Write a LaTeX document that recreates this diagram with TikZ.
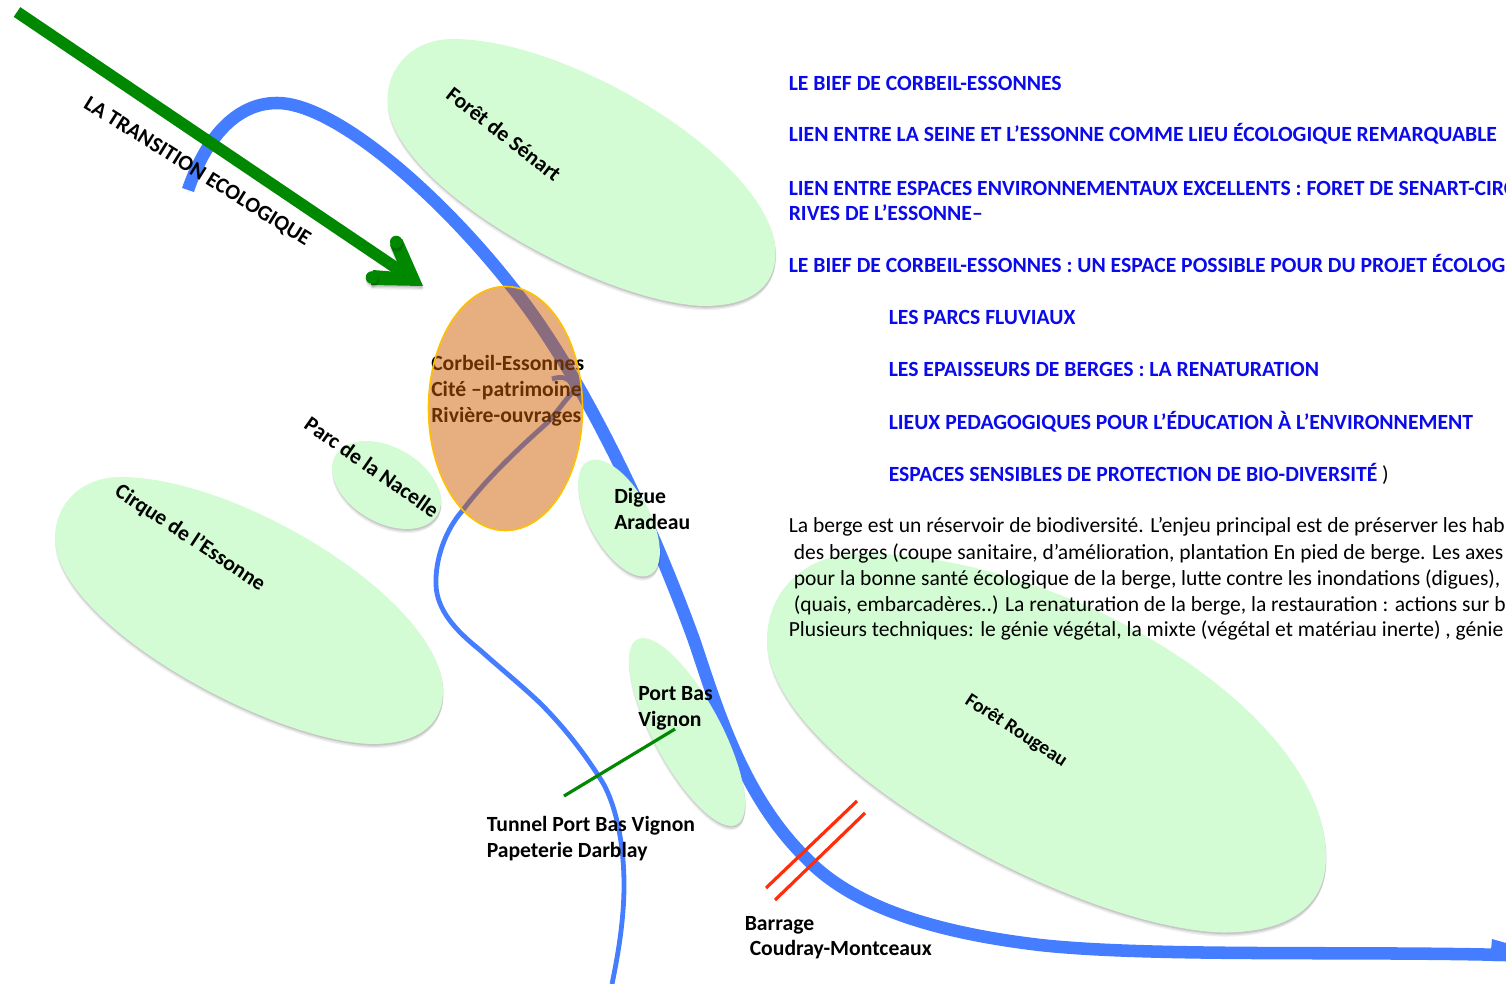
\documentclass[tikz,border=0pt]{standalone}
\usepackage{fontspec}
\setmainfont{Carlito}
\usetikzlibrary{shapes.geometric}
\definecolor{leaf}{RGB}{212,252,212}
\definecolor{riverblue}{RGB}{68,125,255}
\definecolor{arrowgreen}{RGB}{0,136,0}
\definecolor{linkblue}{RGB}{10,10,235}
\definecolor{damred}{RGB}{255,45,10}
\definecolor{burnt}{RGB}{207,95,0}
\definecolor{gold}{RGB}{255,192,0}
\tikzset{
 softshadow/.style={
  preaction={fill=black,opacity=.06,transform canvas={shift={(0pt,-3.2pt)}}},
  preaction={fill=black,opacity=.08,transform canvas={shift={(0.4pt,-2.2pt)}}},
  preaction={fill=black,opacity=.10,transform canvas={shift={(0.4pt,-1.2pt)}}}},
 lineshadow/.style={
  preaction={draw=black,opacity=.07,transform canvas={shift={(0pt,-2.6pt)}}},
  preaction={draw=black,opacity=.09,transform canvas={shift={(0.3pt,-1.4pt)}}}},
 zone/.style={ellipse,fill=leaf,inner sep=0pt,softshadow},
 leafzone/.style={fill=leaf,softshadow},
 lab/.style={anchor=base west,inner sep=0pt,font=\fontsize{16.25}{18.9}\selectfont\bfseries,align=left},
 rotlab/.style={anchor=center,inner sep=0pt,font=\fontsize{16.25}{18.9}\selectfont\bfseries},
 smalllab/.style={rotlab,font=\fontsize{14.6}{17}\selectfont\bfseries},
 head/.style={lab,text=linkblue},
 body/.style={anchor=base west,inner sep=0pt,font=\fontsize{16.15}{18.9}\selectfont},
 mainriver/.style={draw=riverblue,line width=9.4pt,lineshadow},
 smallriver/.style={draw=riverblue,line width=3.6pt,lineshadow},
 greenline/.style={draw=arrowgreen,line width=2.4pt},
 damline/.style={draw=damred,line width=2.4pt},
 bigarrow/.style={draw=arrowgreen,line width=8.8pt,lineshadow},
 arrowhead/.style={fill=arrowgreen,softshadow},
}
\newcommand{\leafshape}[6]{\path[leafzone,shift={(#1,#2)},xscale=#3,yscale=#4]
 (0,0) .. controls (0,-35) and (27,-61) .. (65,-61)
 .. controls (#5,-61) and (386,#6) .. (386,153)
 .. controls (386,190) and (357,206) .. (315,206)
 .. controls (212,203) and (0,85) .. (0,0) -- cycle;}
\begin{document}
\begin{tikzpicture}[x=0.75pt,y=-0.75pt]
\useasboundingbox (0,0) rectangle (1506,984);
\clip (0,0) rectangle (1506,984);
% rivers
\path[mainriver] (188,190) .. controls (205,140) and (235,103) .. (277,103)
 .. controls (335,103) and (440,195) .. (512,287)
 .. controls (575,365) and (645,505) .. (694,640)
 .. controls (716,705) and (742,795) .. (805,857)
 .. controls (850,905) and (930,932) .. (1040,945)
 .. controls (1150,957) and (1350,951) .. (1506,955);
\fill[riverblue] (1491,950) -- (1492,939) -- (1506,943) -- (1506,961) -- (1491,961) -- cycle;
\path[smallriver] (552,379) .. controls (560,376) and (573,376) .. (573,392)
 .. controls (565,400) and (555,415) .. (547,423)
 .. controls (520,447) and (485,480) .. (463,510)
 .. controls (445,530) and (435,560) .. (436,585)
 .. controls (437,610) and (455,630) .. (480,650)
 .. controls (500,668) and (520,684) .. (540,703)
 .. controls (570,733) and (590,762) .. (603,783)
 .. controls (618,810) and (624,850) .. (624,885)
 .. controls (624,920) and (618,955) .. (612,984);
% zones
\leafshape{387.5}{100}{1.005}{1}{185}{65}
\leafshape{55}{538}{1.005}{1}{185}{65}
\leafshape{767}{640}{1.448}{1.42}{205}{50}
\node[zone,rotate=-30,minimum width=88.5pt,minimum height=56.5pt] (nacelle) at (386.5,485) {};
\node[zone,rotate=-61,minimum width=97pt,minimum height=45pt] (digue) at (619,518) {};
\node[zone,rotate=-61.7,minimum width=157.7pt,minimum height=50.7pt] (portbas) at (687,732) {};
% zone labels
\node[rotlab,rotate=-38] (tsenart) at (504,134) {Forêt de Sénart};
\node[rotlab,rotate=-33.5] (tcirque) at (190,538) {Cirque de l’Essonne};
\node[smalllab,rotate=-33] (trougeau) at (1016,731) {Forêt Rougeau};
\node[rotlab,rotate=-35] (tnacelle) at (372,467) {Parc de la Nacelle};
\node[lab] (tdigue) at (614,529) {Digue\\Aradeau};
\node[lab] (tport) at (638,726) {Port Bas\\Vignon};
\node[lab] (tcorbeil) at (431,422) {Corbeil-Essonnes\\[0.5pt]Cité –patrimoine\\[0.5pt]Rivière-ouvrages};
% orange zone
\node[ellipse,fill=burnt,fill opacity=.5,draw=gold,line width=1.2pt,inner sep=0pt,minimum width=115.5pt,minimum height=183pt] (corbeil) at (505.5,408.5) {};
% tunnel and dam
\coordinate (tunA) at (564,796); \coordinate (tunB) at (675,729);
\draw[greenline] (tunA) -- (tunB);
\coordinate (damA) at (766,888); \coordinate (damB) at (857,801);
\coordinate (damC) at (775,900); \coordinate (damD) at (865,813);
\draw[damline] (damA) -- (damB);
\draw[damline] (damC) -- (damD);
\node[lab] (ttunnel) at (486.5,857) {Tunnel Port Bas Vignon\\Papeterie Darblay};
\node[lab] (tbarrage) at (744.5,930) {Barrage};
\node[lab] (tcoudray) at (749.5,955) {Coudray-Montceaux};
% big arrow
\coordinate (arA) at (17,12); \coordinate (arT) at (405,274);
\path[arrowhead] (423,286) -- (402.3,239) -- (390,245) -- (404,278) -- cycle;
\path[arrowhead] (423,286) -- (371,285) -- (373,270) -- (398,272) -- cycle;
\path[arrowhead] (396.2,242) circle[radius=6.3];
\path[arrowhead] (372,277.5) circle[radius=6.3];
\draw[bigarrow] (arA) -- (arT);
\node[rotlab,rotate=-32] (ttrans) at (197,172) {LA TRANSITION ECOLOGIQUE};
% blue headings
\node[head] (h1) at (788.5,91) {LE BIEF DE CORBEIL-ESSONNES};
\node[head] (h2) at (788.5,142) {LIEN ENTRE LA SEINE ET L’ESSONNE COMME LIEU ÉCOLOGIQUE REMARQUABLE};
\node[head] (h3) at (788.5,196) {LIEN ENTRE ESPACES ENVIRONNEMENTAUX EXCELLENTS : FORET DE SENART-CIRC};
\node[head] (h4) at (788.5,221) {RIVES DE L’ESSONNE–};
\node[head] (h5) at (788.5,273) {LE BIEF DE CORBEIL-ESSONNES : UN ESPACE POSSIBLE POUR DU PROJET ÉCOLOG};
\node[head] (h6) at (888.5,325) {LES PARCS FLUVIAUX};
\node[head] (h7) at (888.5,376) {LES EPAISSEURS DE BERGES : LA RENATURATION};
\node[head] (h8) at (888.5,429) {LIEUX PEDAGOGIQUES POUR L’ÉDUCATION À L’ENVIRONNEMENT};
\node[head] (h9) at (888.5,481) {ESPACES SENSIBLES DE PROTECTION DE BIO-DIVERSITÉ {\mdseries\color{black} )}};
% paragraph
\node[body] (p1) at (788.5,532) {La berge est un réservoir de biodiversité. L’enjeu principal est de préserver les hab};
\node[body] (p2) at (793.5,559) {des berges (coupe sanitaire, d’amélioration, plantation En pied de berge. Les axes};
\node[body] (p3) at (793.5,585) {pour la bonne santé écologique de la berge, lutte contre les inondations (digues),};
\node[body] (p4) at (793.5,611) {(quais, embarcadères..) La renaturation de la berge, la restauration : actions sur b};
\node[body] (p5) at (788.5,636) {Plusieurs techniques: le génie végétal, la mixte (végétal et matériau inerte) , génie};
\end{tikzpicture}
\end{document}
